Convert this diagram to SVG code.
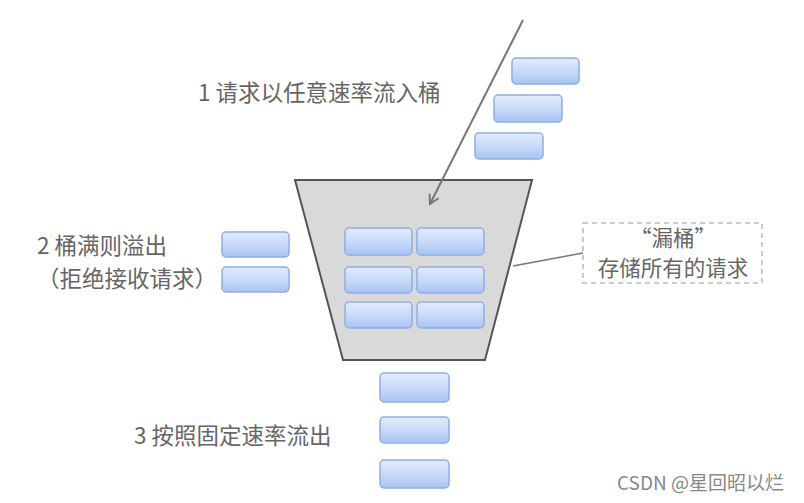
<svg xmlns="http://www.w3.org/2000/svg" width="804" height="503" viewBox="0 0 804 503">
<defs>
<linearGradient id="g" x1="0" y1="0" x2="0" y2="1">
<stop offset="0" stop-color="#e3ecfc"/>
<stop offset="0.6" stop-color="#c3d6f8"/>
<stop offset="1" stop-color="#a8c2f2"/>
</linearGradient>
<marker id="arr" viewBox="0 0 12 12" refX="10" refY="6" markerWidth="12" markerHeight="12" markerUnits="userSpaceOnUse" orient="auto">
<path d="M1,1 L10,6 L1,11" fill="none" stroke="#777" stroke-width="2"/>
</marker>
<style>
.r{fill:url(#g);stroke:#8eaee4;stroke-width:1.5}
.t{font-family:"Noto Sans CJK SC","Noto Sans",sans-serif;font-size:22.5px;fill:#666}
.c{font-family:"Noto Sans CJK SC","Noto Sans",sans-serif;font-size:21.5px;fill:#666}
</style>
</defs>
<rect width="804" height="503" fill="#fff"/>
<g id="bucket">
<polygon points="295,180 532,180 485,360 343,360" fill="#d9d9d9" stroke="#555" stroke-width="2"/>
<rect class="r" x="345" y="228" width="67" height="27" rx="4"/>
<rect class="r" x="417" y="228" width="67" height="27" rx="4"/>
<rect class="r" x="345" y="267" width="67" height="26" rx="4"/>
<rect class="r" x="417" y="267" width="67" height="26" rx="4"/>
<rect class="r" x="345" y="302" width="67" height="26" rx="4"/>
<rect class="r" x="417" y="302" width="67" height="26" rx="4"/>
</g>
<g id="incoming">
<rect class="r" x="512" y="58" width="67" height="26" rx="4"/>
<rect class="r" x="494" y="95" width="68" height="27" rx="4"/>
<rect class="r" x="475" y="133" width="68" height="26" rx="4"/>
<text class="t" x="198" y="101">1 请求以任意速率流入桶</text>
</g>
<g id="overflow">
<rect class="r" x="222" y="232" width="67" height="25" rx="4"/>
<rect class="r" x="222" y="267" width="67" height="25" rx="4"/>
<text class="t" x="37" y="254">2 桶满则溢出</text>
<text class="t" x="37" y="287">（拒绝接收请求）</text>
</g>
<g id="outflow">
<rect class="r" x="380" y="373" width="69" height="29" rx="4"/>
<rect class="r" x="380" y="417" width="69" height="26" rx="4"/>
<rect class="r" x="380" y="460" width="69" height="28" rx="4"/>
<text class="t" x="134" y="444">3 按照固定速率流出</text>
</g>
<g id="callout">
<rect x="583" y="223" width="179" height="60" fill="none" stroke="#bbb" stroke-width="1.5" stroke-dasharray="5,4"/>
<text class="c" x="673" y="246" text-anchor="middle">“漏桶”</text>
<text class="c" x="673" y="276" text-anchor="middle">存储所有的请求</text>
</g>
<g id="connectors">
<line x1="523" y1="20" x2="430" y2="204" stroke="#777" stroke-width="2" marker-end="url(#arr)"/>
<line x1="513" y1="266" x2="583" y2="253" stroke="#777" stroke-width="1.5"/>
</g>
<g id="watermark">
<text x="617" y="490" font-family="Noto Sans CJK SC,Noto Sans,sans-serif" font-size="19" fill="#888">CSDN @星回昭以烂</text>
</g>
</svg>
